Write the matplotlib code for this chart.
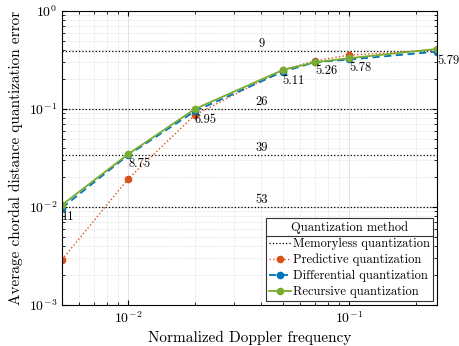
import matplotlib
matplotlib.use('Agg')
import matplotlib.pyplot as plt
from matplotlib.lines import Line2D

plt.rcParams['font.family'] = 'serif'
plt.rcParams['font.serif'] = ['cmr10', 'DejaVu Serif']
plt.rcParams['mathtext.fontset'] = 'cm'
plt.rcParams['axes.formatter.use_mathtext'] = True
plt.rcParams['axes.unicode_minus'] = False

fd = [0.005, 0.01, 0.02, 0.05, 0.07, 0.1, 0.25]
predictive = [0.0029, 0.0195, 0.087, 0.25, 0.31, 0.355, 0.40]
differential = [0.0098, 0.034, 0.095, 0.24, 0.30, 0.32, 0.385]
recursive = [0.0105, 0.0348, 0.1, 0.25, 0.30, 0.33, 0.41]
bits = ['11', '8.75', '6.95', '5.11', '5.26', '5.78', '5.79']

memoryless = [0.39, 0.1, 0.034, 0.01]
mem_bits = ['9', '26', '39', '53']

fig = plt.figure(figsize=(4.59, 3.46), dpi=100)
ax = fig.add_axes([62/459, 41/346, 375/459, 294/346])

for i, m in enumerate(memoryless):
    ax.plot([0.005, 0.25], [m, m], ':', color='k', lw=0.9,
            label='Memoryless quantization' if i == 0 else None)
    ax.text(0.04, m * 1.03, mem_bits[i], ha='center', va='bottom', fontsize=9)

ax.plot(fd, predictive, ':', color='#D95319', marker='o', ms=4.5, lw=1,
        label='Predictive quantization')
ax.plot(fd, differential, '--', color='#0072BD', marker='o', ms=4.5, lw=1.3,
        dashes=(4, 2.5), label='Differential quantization')
ax.plot(fd, recursive, '-', color='#77AC30', marker='o', ms=4.5, lw=1.3,
        label='Recursive quantization')

for x, y, d in zip(fd, recursive, differential):
    ax.annotate(bits[fd.index(x)], (x, min(y, d)), xytext=(0, -2),
                textcoords='offset points', ha='left', va='top', fontsize=9)

ax.set_xscale('log')
ax.set_yscale('log')
ax.set_xlim(0.005, 0.25)
ax.set_ylim(1e-3, 1)
ax.grid(True, which='major', ls='-', color='#dddddd', lw=0.6)
ax.grid(True, which='minor', ls='--', color='#e3e3e3', lw=0.5)
ax.tick_params(which='both', direction='in', top=True, right=True, labelsize=10)
for s in ax.spines.values():
    s.set_linewidth(0.8)
ax.set_xlabel('Normalized Doppler frequency', fontsize=11)
ax.set_ylabel('Average chordal distance quantization error', fontsize=11)

leg = ax.legend(loc='lower right', title='Quantization method', fontsize=9,
                title_fontsize=9, fancybox=False, edgecolor='#333333',
                framealpha=1, borderaxespad=0.3, handlelength=1.8,
                handletextpad=0.15, labelspacing=0.3, borderpad=0.25)
leg.get_frame().set_linewidth(0.8)

# separator under legend title
fig.canvas.draw()
fb = leg.get_frame().get_window_extent()
tb = leg.get_title().get_window_extent()
ysep = tb.y0 - 2
fig.add_artist(Line2D([fb.x0, fb.x1], [ysep, ysep], transform=None,
                      color='#333333', lw=0.8))

fig.savefig('out.png', dpi=100)
